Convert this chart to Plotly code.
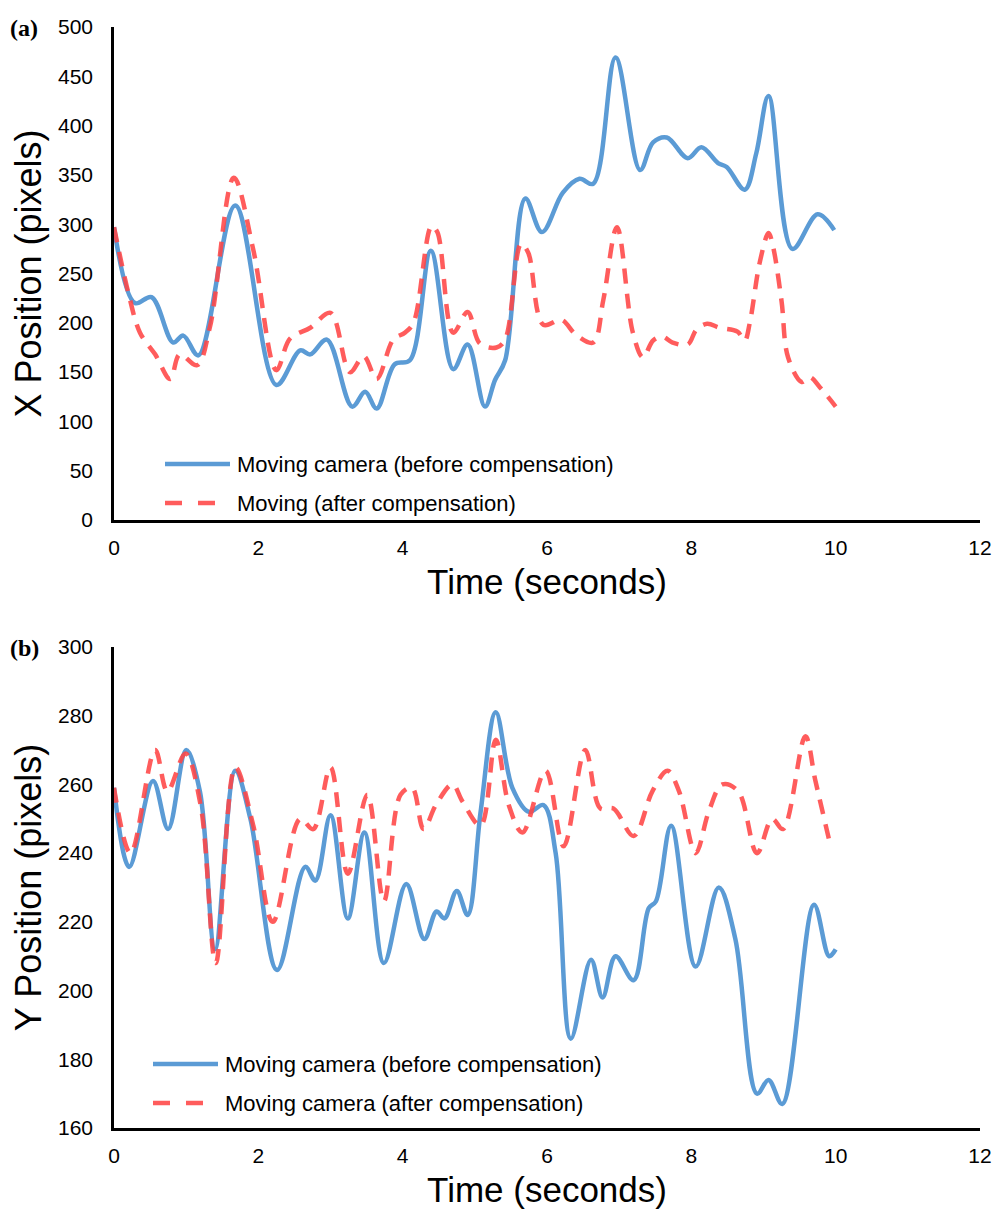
import plotly.graph_objects as go

W, H = 993, 1213

# ---------------- data ----------------
# (a) X position
x_before_t = [0, 0.29, 0.52, 0.82, 0.96, 1.17, 1.68, 2.25, 2.58, 2.72, 2.95, 3.3, 3.48, 3.64,
              3.89, 4.1, 4.39, 4.7, 4.9, 5.14, 5.28, 5.42, 5.7, 5.93, 6.22, 6.45, 6.64, 6.95,
              7.29, 7.47, 7.66, 7.95, 8.14, 8.37, 8.49, 8.74, 8.9, 9.07, 9.4, 9.75, 9.98]
x_before_v = [297, 220, 226, 180, 187, 167, 319, 137, 172, 168, 183, 115, 130, 113,
              158, 162, 273, 153, 178, 115, 142, 162, 326, 292, 332, 346, 341, 469,
              355, 383, 388, 367, 378, 362, 358, 335, 372, 430, 275, 310, 294]

x_after_t = [0, 0.2, 0.36, 0.57, 0.78, 0.91, 1.15, 1.33, 1.66, 1.93, 2.25, 2.44, 2.72, 3.0,
             3.27, 3.46, 3.64, 3.87, 4.03, 4.15, 4.4, 4.48, 4.7, 4.9, 5.07, 5.3, 5.42, 5.64,
             5.74, 5.95, 6.2, 6.4, 6.64, 6.78, 6.97, 7.19, 7.33, 7.47, 7.6, 7.74, 7.95, 8.07,
             8.22, 8.39, 8.64, 8.74, 8.81, 8.95, 9.07, 9.13, 9.25, 9.34, 9.53, 9.64, 9.8, 10.0]
x_after_v = [297, 230, 190, 168, 143, 168, 157, 196, 347, 274, 152, 184, 195, 210,
             150, 166, 143, 183, 190, 200, 298, 292, 190, 211, 179, 175, 183, 280,
             271, 198, 203, 188, 180, 223, 297, 190, 165, 182, 186, 180, 178, 193,
             199, 195, 191, 182, 200, 262, 291, 278, 222, 165, 140, 145, 133, 115]

# (b) Y position
y_before_t = [0, 0.21, 0.54, 0.75, 1.0, 1.19, 1.4, 1.68, 1.89, 2.26, 2.65, 2.79, 3.0, 3.24,
              3.47, 3.74, 4.05, 4.3, 4.47, 4.58, 4.75, 4.9, 5.08, 5.29, 5.52, 5.75, 5.95,
              6.12, 6.33, 6.61, 6.77, 6.95, 7.2, 7.41, 7.51, 7.72, 8.06, 8.38, 8.61, 8.91,
              9.07, 9.26, 9.7, 9.91, 10.0]
y_before_v = [259, 236, 261, 247, 270, 258, 212, 264, 250, 206, 236, 232, 251, 221,
              246, 208, 231, 215, 223, 221, 229, 222, 252, 281, 259, 252, 254,
              240, 186, 209, 198, 210, 203, 224, 226, 248, 207, 230, 215, 170,
              174, 167, 225, 210, 212]

y_after_t = [0, 0.23, 0.57, 0.74, 0.99, 1.2, 1.41, 1.68, 1.93, 2.2, 2.58, 2.76, 3.0, 3.24,
             3.51, 3.74, 3.97, 4.13, 4.29, 4.46, 4.69, 4.83, 5.08, 5.29, 5.47, 5.66, 5.98,
             6.23, 6.53, 6.74, 6.92, 7.2, 7.46, 7.67, 7.83, 8.06, 8.24, 8.43, 8.65, 8.91,
             9.12, 9.27, 9.58, 9.72, 9.93]
y_after_v = [259, 240, 270, 258, 269, 254, 208, 265, 248, 220, 250, 247, 265, 234,
             257, 226, 257, 259, 247, 254, 260, 255, 248, 273, 254, 246, 264,
             242, 270, 253, 253, 245, 258, 264, 258, 240, 252, 260, 258, 240,
             250, 247, 274, 261, 242]

x_ticks = [0, 2, 4, 6, 8, 10, 12]
legend_a = ["Moving camera (before compensation)", "Moving (after compensation)"]
legend_b = ["Moving camera (before compensation)", "Moving camera (after compensation)"]

# ---------------- styling ----------------
BLUE = "#5B9BD5"
RED = "rgba(255,70,70,0.88)"
FONT = "Liberation Sans, Arial, sans-serif"

def px(x):
    return x / W

def py(y):
    return 1 - y / H

fig = go.Figure()

def add_pair(tb, vb, ta, va, names, xa, ya):
    fig.add_trace(go.Scatter(x=tb, y=vb, mode="lines", name=names[0],
                             line=dict(color=BLUE, width=4.5, shape="spline", smoothing=1.0),
                             xaxis=xa, yaxis=ya, showlegend=False))
    fig.add_trace(go.Scatter(x=ta, y=va, mode="lines", name=names[1],
                             line=dict(color=RED, width=4.5, shape="spline", smoothing=1.0,
                                       dash="15px,10px"),
                             xaxis=xa, yaxis=ya, showlegend=False))

add_pair(x_before_t, x_before_v, x_after_t, x_after_v, legend_a, "x", "y")
add_pair(y_before_t, y_before_v, y_after_t, y_after_v, legend_b, "x2", "y2")

xdom = [px(114), px(980)]
axis_common = dict(showline=True, linecolor="black", linewidth=2.5, showgrid=False,
                   zeroline=False, ticks="", automargin=False,
                   tickfont=dict(family=FONT, size=21, color="black"))

xaxis_cfg = dict(axis_common, range=[0, 12], tickvals=x_ticks, domain=xdom,
                 ticklabelstandoff=7,
                 title=dict(text="Time (seconds)", font=dict(family=FONT, size=35, color="black"),
                            standoff=12))

ytitle_font = dict(family=FONT, size=36, color="black")

fig.update_layout(
    width=W, height=H,
    margin=dict(l=0, r=0, t=0, b=0, pad=0, autoexpand=False),
    paper_bgcolor="white", plot_bgcolor="white",
    xaxis=dict(xaxis_cfg, anchor="y"),
    yaxis=dict(axis_common, range=[0, 500], dtick=50, domain=[py(520), py(27)], anchor="x",
               ticklabelstandoff=14,
               title=dict(text="X Position (pixels)", font=ytitle_font, standoff=6)),
    xaxis2=dict(xaxis_cfg, anchor="y2"),
    yaxis2=dict(axis_common, range=[160, 300], dtick=20, domain=[py(1128), py(647)], anchor="x2",
                ticklabelstandoff=14,
                title=dict(text="Y Position (pixels)", font=ytitle_font, standoff=6)),
)

annotations = []
shapes = []

# panel labels
for lab, y in (("(a)", 28), ("(b)", 648)):
    annotations.append(dict(text="<b>%s</b>" % lab, xref="paper", yref="paper", x=px(8), y=py(y),
                            xanchor="left", yanchor="middle", showarrow=False,
                            font=dict(family="Liberation Serif, Times New Roman, serif", size=24,
                                      color="black")))

# legends (drawn inside each panel, bottom-left)
def legend(names, y1, y2, x0, x1, xt):
    shapes.append(dict(type="line", xref="paper", yref="paper", x0=px(x0), x1=px(x1),
                       y0=py(y1), y1=py(y1), line=dict(color=BLUE, width=4.5)))
    shapes.append(dict(type="line", xref="paper", yref="paper", x0=px(x0), x1=px(x1),
                       y0=py(y2), y1=py(y2), line=dict(color=RED, width=4.5, dash="17px,16px")))
    for n, y in zip(names, (y1, y2)):
        annotations.append(dict(text=n, xref="paper", yref="paper", x=px(xt), y=py(y),
                                xanchor="left", yanchor="middle", showarrow=False,
                                font=dict(family=FONT, size=22, color="black")))

legend(legend_a, 464, 503, 165, 230, 235)
legend(legend_b, 1064, 1103, 153, 218, 223)

fig.update_layout(annotations=annotations, shapes=shapes)

fig.write_html("out.html")
